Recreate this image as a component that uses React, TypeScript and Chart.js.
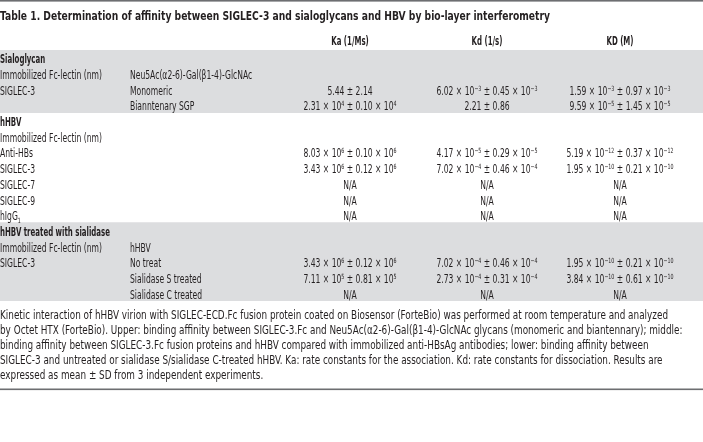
import React, { useEffect, useRef } from "react";
import { Chart, registerables } from "chart.js";

Chart.register(...registerables);

// ---------- data ----------
const tableTitle =
  "Table 1. Determination of affinity between SIGLEC-3 and sialoglycans and HBV by bio-layer interferometry";
const columnHeaders = ["Ka (1/Ms)", "Kd (1/s)", "KD (M)"];

const rowLabels = [
  "Sialoglycan",
  "Immobilized Fc-lectin (nm)",
  "SIGLEC-3",
  "",
  "hHBV",
  "Immobilized Fc-lectin (nm)",
  "Anti-HBs",
  "SIGLEC-3",
  "SIGLEC-7",
  "SIGLEC-9",
  "hIgG_{1}",
  "hHBV treated with sialidase",
  "Immobilized Fc-lectin (nm)",
  "SIGLEC-3",
  "",
  "",
];

const subLabels = [
  "",
  "Neu5Ac(α2-6)-Gal(β1-4)-GlcNAc",
  "Monomeric",
  "Bianntenary SGP",
  "",
  "",
  "",
  "",
  "",
  "",
  "",
  "",
  "hHBV",
  "No treat",
  "Sialidase S treated",
  "Sialidase C treated",
];

const kaValues = [
  "",
  "",
  "5.44 ± 2.14",
  "2.31 × 10^{4} ± 0.10 × 10^{4}",
  "",
  "",
  "8.03 × 10^{6} ± 0.10 × 10^{6}",
  "3.43 × 10^{6} ± 0.12 × 10^{6}",
  "N/A",
  "N/A",
  "N/A",
  "",
  "",
  "3.43 × 10^{6} ± 0.12 × 10^{6}",
  "7.11 × 10^{5} ± 0.81 × 10^{5}",
  "N/A",
];

const kdValues = [
  "",
  "",
  "6.02 × 10^{−3} ± 0.45 × 10^{−3}",
  "2.21 ± 0.86",
  "",
  "",
  "4.17 × 10^{−5} ± 0.29 × 10^{−5}",
  "7.02 × 10^{−4} ± 0.46 × 10^{−4}",
  "N/A",
  "N/A",
  "N/A",
  "",
  "",
  "7.02 × 10^{−4} ± 0.46 × 10^{−4}",
  "2.73 × 10^{−4} ± 0.31 × 10^{−4}",
  "N/A",
];

const bigKdValues = [
  "",
  "",
  "1.59 × 10^{−3} ± 0.97 × 10^{−3}",
  "9.59 × 10^{−5} ± 1.45 × 10^{−5}",
  "",
  "",
  "5.19 × 10^{−12} ± 0.37 × 10^{−12}",
  "1.95 × 10^{−10} ± 0.21 × 10^{−10}",
  "N/A",
  "N/A",
  "N/A",
  "",
  "",
  "1.95 × 10^{−10} ± 0.21 × 10^{−10}",
  "3.84 × 10^{−10} ± 0.61 × 10^{−10}",
  "N/A",
];

const sectionRows = [0, 4, 11];
const shadedRows = [
  true, true, true, true,
  false, false, false, false, false, false, false,
  true, true, true, true, true,
];

const captionLines = [
  "Kinetic interaction of hHBV virion with SIGLEC-ECD.Fc fusion protein coated on Biosensor (ForteBio) was performed at room temperature and analyzed",
  "by Octet HTX (ForteBio). Upper: binding affinity between SIGLEC-3.Fc and Neu5Ac(α2-6)-Gal(β1-4)-GlcNAc glycans (monomeric and biantennary); middle:",
  "binding affinity between SIGLEC-3.Fc fusion proteins and hHBV compared with immobilized anti-HBsAg antibodies; lower: binding affinity between",
  "SIGLEC-3 and untreated or sialidase S/sialidase C-treated hHBV. Ka: rate constants for the association. Kd: rate constants for dissociation. Results are",
  "expressed as mean ± SD from 3 independent experiments.",
];

// ---------- layout / style ----------
const W = 703;
const H = 442;
const TABLE_TOP = 50;
const TABLE_BOTTOM = 301;
const SUB_X = 130;
const COL_X = [350, 487, 620];
const FAMILY =
  '"Liberation Sans Narrow", "DejaVu Sans Condensed", "Liberation Sans", sans-serif';
const TEXT = "#231f20";
const SHADE = "#dcdddf";
const RULE = "#6d6e71";
const FS = 11.5;

type Seg = { t: string; mode: number };
function parseRich(s: string): Seg[] {
  const out: Seg[] = [];
  const re = /\^\{([^}]*)\}|_\{([^}]*)\}/g;
  let last = 0;
  let m: RegExpExecArray | null;
  while ((m = re.exec(s))) {
    if (m.index > last) out.push({ t: s.slice(last, m.index), mode: 0 });
    if (m[1] !== undefined) out.push({ t: m[1], mode: 1 });
    else out.push({ t: m[2], mode: -1 });
    last = re.lastIndex;
  }
  if (last < s.length) out.push({ t: s.slice(last), mode: 0 });
  return out;
}

function drawRich(
  ctx: CanvasRenderingContext2D,
  s: string,
  x: number,
  y: number,
  size: number,
  weight: string,
  sx: number,
  align: "left" | "center" | "right"
) {
  if (!s) return;
  const segs = parseRich(s);
  const fontFor = (mode: number) =>
    `${weight} ${mode === 0 ? size : size * 0.62}px ${FAMILY}`;
  const widths = segs.map((g) => {
    ctx.font = fontFor(g.mode);
    return ctx.measureText(g.t).width * sx;
  });
  const total = widths.reduce((a, b) => a + b, 0);
  let cx = align === "center" ? x - total / 2 : align === "right" ? x - total : x;
  segs.forEach((g, i) => {
    ctx.font = fontFor(g.mode);
    const dy = g.mode === 1 ? -size * 0.36 : g.mode === -1 ? size * 0.2 : 0;
    ctx.save();
    ctx.translate(cx, y + dy);
    ctx.scale(sx, 1);
    ctx.textAlign = "left";
    ctx.textBaseline = "alphabetic";
    ctx.fillText(g.t, 0, 0);
    ctx.restore();
    cx += widths[i];
  });
}

function fitScale(ctx: CanvasRenderingContext2D, font: string, ref: string, target: number) {
  ctx.font = font;
  const w = ctx.measureText(ref).width;
  return w > 0 ? target / w : 1;
}

const tablePlugin = {
  id: "tableText",
  afterDatasetsDraw(chart: any) {
    const ctx: CanvasRenderingContext2D = chart.ctx;
    const yScale = chart.scales.y;
    const xScale = chart.scales.x;
    const left = xScale.left;
    const right = xScale.right;
    ctx.save();
    ctx.fillStyle = TEXT;

    const sxReg = fitScale(ctx, `normal ${FS}px ${FAMILY}`, "Immobilized Fc-lectin (nm)", 102);
    const sxBold = fitScale(ctx, `bold ${FS}px ${FAMILY}`, "hHBV treated with sialidase", 110);
    const sxTitle = fitScale(ctx, `bold ${FS}px ${FAMILY}`, tableTitle, 550);
    const sxCap = fitScale(ctx, `normal ${FS}px ${FAMILY}`, captionLines[0], 668);

    // rules
    ctx.fillStyle = RULE;
    ctx.fillRect(left, 0, right - left, 1.6);
    ctx.fillRect(left, 388.5, right - left, 1.6);
    ctx.fillStyle = TEXT;

    // title
    drawRich(ctx, tableTitle, left, 20, FS, "bold", sxTitle, "left");

    // column headers
    columnHeaders.forEach((h, c) => {
      drawRich(ctx, h, COL_X[c], 45, FS, "bold", sxBold, "center");
    });

    // rows
    rowLabels.forEach((lab, i) => {
      const y = yScale.getPixelForValue(i) + 5.5;
      const isSection = sectionRows.includes(i);
      drawRich(ctx, lab, left, y, FS, isSection ? "bold" : "normal", isSection ? sxBold : sxReg, "left");
      drawRich(ctx, subLabels[i], SUB_X, y, FS, "normal", sxReg, "left");
      drawRich(ctx, kaValues[i], COL_X[0], y, FS, "normal", sxReg, "center");
      drawRich(ctx, kdValues[i], COL_X[1], y, FS, "normal", sxReg, "center");
      drawRich(ctx, bigKdValues[i], COL_X[2], y, FS, "normal", sxReg, "center");
    });

    // caption
    captionLines.forEach((line, i) => {
      drawRich(ctx, line, left, 319 + i * 15, FS, "normal", sxCap, "left");
    });

    ctx.restore();
  },
};

export default function App() {
  const ref = useRef<HTMLCanvasElement | null>(null);
  useEffect(() => {
    if (!ref.current) return;
    const chart = new Chart(ref.current, {
      type: "bar",
      data: {
        labels: rowLabels.map((l, i) => `${i}:${l}`),
        datasets: [
          {
            data: shadedRows.map((s) => (s ? 1 : null)),
            backgroundColor: SHADE,
            borderWidth: 0,
            barPercentage: 1,
            categoryPercentage: 1,
          },
        ],
      },
      options: {
        indexAxis: "y",
        responsive: false,
        animation: false,
        devicePixelRatio: 1,
        events: [],
        layout: { padding: { top: TABLE_TOP, bottom: H - TABLE_BOTTOM, left: 0, right: 0 } },
        scales: {
          x: { display: false, min: 0, max: 1 },
          y: { display: false },
        },
        plugins: {
          legend: { display: false },
          tooltip: { enabled: false },
        },
      },
      plugins: [tablePlugin],
    } as any);
    return () => chart.destroy();
  }, []);
  return (
    <div style={{ position: "absolute", left: 0, top: 0, width: W, height: H, background: "#fff" }}>
      <canvas ref={ref} width={W} height={H} style={{ width: W, height: H, display: "block" }} />
    </div>
  );
}
